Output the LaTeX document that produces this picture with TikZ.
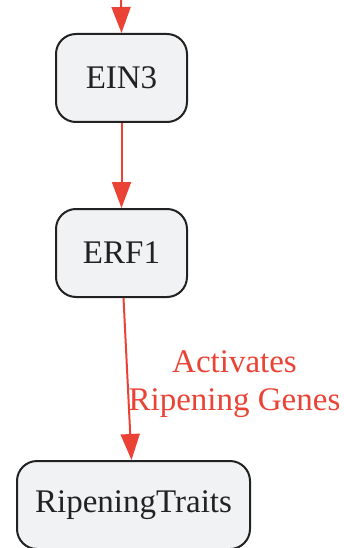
\documentclass[tikz,border=0pt]{standalone}
\usepackage{fontspec}
\setmainfont{Liberation Serif}
\usetikzlibrary{arrows.meta}
\definecolor{edgered}{RGB}{234,67,53}
\definecolor{boxfill}{RGB}{241,242,244}
\definecolor{boxline}{RGB}{34,34,34}
\tikzset{
  box/.style={draw=boxline, fill=boxfill, line width=2pt, rounded corners=20pt,
    minimum height=88pt, inner sep=0pt, text=boxline,
    font=\fontsize{33}{40}\selectfont},
  conn/.style={draw=edgered, line width=2pt, -{Triangle[length=26pt,width=19pt]}},
  lbl/.style={text=edgered, align=center, font=\fontsize{33}{38}\selectfont, inner sep=0pt}
}
\begin{document}
\begin{tikzpicture}[x=1pt,y=-1pt]
\useasboundingbox (0,0) rectangle (343,548);
\coordinate (top) at (121,0);
\node[box, minimum width=131pt] (ein3) at (121.5,78) {EIN3};
\node[box, minimum width=131pt] (erf1) at (121.5,253) {ERF1};
\node[box, minimum width=233pt] (rt) at (133.5,505) {RipeningTraits};
\draw[conn] (top) -- (ein3.north);
\draw[conn] (ein3) -- (erf1);
\draw[conn] (erf1.south) ++(2,0) coordinate (erfout) (erfout) -- (rt.north -| 131.5,0)
  node[lbl, pos=0.5, xshift=107pt, yshift=-5pt] {Activates\\Ripening Genes};
\end{tikzpicture}
\end{document}
